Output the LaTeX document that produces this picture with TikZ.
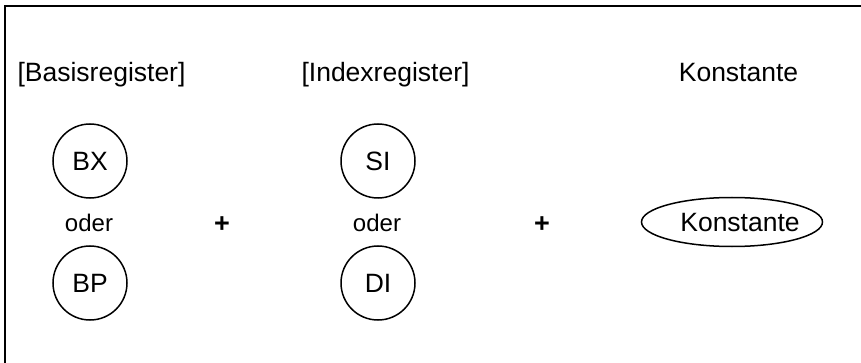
\documentclass[tikz,border=0pt]{standalone}
\usepackage{fontspec}
\setmainfont{Liberation Sans}
\usepackage{tikz}
\usetikzlibrary{shapes.geometric}

\tikzset{
    reg/.style={draw, circle, line width=1.5pt, minimum size=74pt, inner sep=0pt,
        font=\fontsize{26.5}{30}\selectfont},
    head/.style={anchor=base, font=\fontsize{26.5}{30}\selectfont},
    oder/.style={anchor=base, font=\fontsize{24}{28}\selectfont},
}

\begin{document}
\begin{tikzpicture}[x=1pt, y=-1pt]
    \useasboundingbox (0,0) rectangle (861,363);
    % frame, only top and left edge visible
    \draw[line width=2pt] (5,364) -- (5,6) -- (862,6);
    % column headings
    \node[head] (basis) at (101.5,81.5) {[Basisregister]};
    \node[head] (index) at (385.5,81.5) {[Indexregister]};
    \node[head] (konsthead) at (738.5,81.5) {Konstante};
    % registers
    \node[reg] (bx) at (90,161) {BX};
    \node[reg] (bp) at (90,283) {BP};
    \node[reg] (si) at (378,161) {SI};
    \node[reg] (di) at (378,283) {DI};
    \foreach \x/\name in {89/oderbase, 377/oderindex} {
        \node[oder] (\name) at (\x,232) {oder};
    }
    \foreach \x/\name in {222/plusa, 542/plusb} {
        \node[font=\bfseries\fontsize{27}{30}\selectfont] (\name) at (\x,225) {+};
    }
    % displacement
    \node[draw, ellipse, line width=1.5pt, minimum width=181pt, minimum height=49pt] (konst) at (732,222) {};
    \node[head] (konsttext) at (740,231.5) {Konstante};
\end{tikzpicture}
\end{document}
